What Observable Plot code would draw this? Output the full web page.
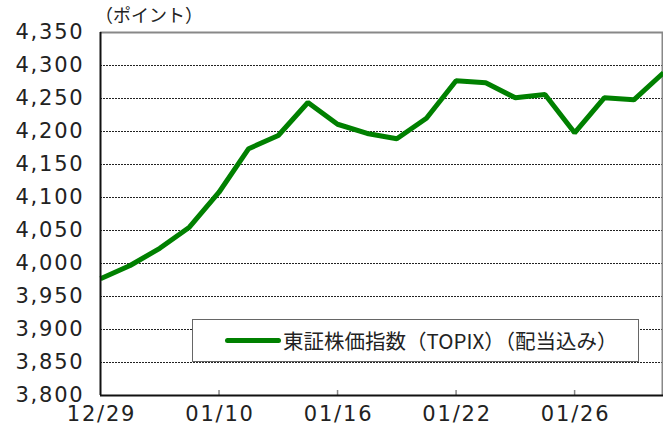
<!DOCTYPE html>
<html><head><meta charset="utf-8">
<script src="https://cdn.jsdelivr.net/npm/d3@7"></script>
<script src="https://cdn.jsdelivr.net/npm/@observablehq/plot@0.6"></script>
<style>
html,body{margin:0;padding:0;background:#fff;overflow:hidden;}
#wrap{position:relative;width:663px;height:435px;overflow:hidden;}
#wrap svg{display:block;max-width:none !important;}
#wrap svg g[aria-label="y-axis tick label"] text,
#wrap svg g[aria-label="x-axis tick label"] text{letter-spacing:1.8px;}
#ytitle{position:absolute;left:95px;top:2px;font-family:"Noto Sans CJK JP";font-size:18px;color:#222;line-height:24px;white-space:nowrap;}
#legend{position:absolute;left:192px;top:319px;width:447px;height:43px;border:1px solid #666;background:#fff;box-sizing:border-box;}
#legend .sw{position:absolute;left:32px;top:18px;width:56px;height:5px;border-radius:3px;background:#008000;}
#legend .tx{position:absolute;left:90px;top:0;height:41px;line-height:40px;font-family:"Noto Sans CJK JP";font-size:20.5px;color:#222;white-space:nowrap;}
</style></head>
<body><div id="wrap"></div>
<script>
const dates = ["12/29","01/04","01/05","01/09","01/10","01/11","01/12","01/15","01/16","01/17","01/18","01/19","01/22","01/23","01/24","01/25","01/26","01/29","01/30","01/31"];
const values = [3977,3997,4023,4055,4108,4174,4194,4244,4211,4197,4189,4220,4277,4274,4251,4256,4198,4251,4248,4289];
const xTickLabels = ["12/29","01/10","01/16","01/22","01/26"];
const yTicks = [3800,3850,3900,3950,4000,4050,4100,4150,4200,4250,4300,4350];
const seriesName = "東証株価指数（TOPIX）（配当込み）";
const yTitle = "（ポイント）";

const data = dates.map((d,i)=>({date:d, value:values[i]}));
const chart = Plot.plot({
  width:663, height:435,
  marginLeft:100, marginRight:0, marginTop:32, marginBottom:40,
  x:{type:"point", domain:dates, padding:0, round:false},
  y:{domain:[3800,4350]},
  style:{fontFamily:"DejaVu Sans", fontSize:"21px", color:"#222", background:"#fff", overflow:"hidden"},
  marks:[
    Plot.ruleY(yTicks.slice(1,-1), {stroke:"#222", strokeWidth:1, strokeDasharray:"2 1"}),
    Plot.ruleY([yTicks[yTicks.length-1]], {stroke:"#888", strokeWidth:2}),
    Plot.ruleX([dates[dates.length-1]], {stroke:"#888", strokeWidth:2, dx:-1}),
    Plot.ruleX(xTickLabels.slice(1), {stroke:"#888", strokeWidth:1.5, insetTop:358}),
    Plot.line(data, {x:"date", y:"value", stroke:"#008000", strokeWidth:5, strokeLinejoin:"miter", strokeLinecap:"butt"}),
    Plot.ruleX([dates[0]], {stroke:"#111", strokeWidth:2}),
    Plot.ruleY([yTicks[0]], {stroke:"#111", strokeWidth:2}),
    Plot.axisY({ticks:yTicks, tickSize:0, tickPadding:16, tickFormat:d3.format(","), label:null}),
    Plot.axisX({ticks:xTickLabels, tickSize:0, tickPadding:11, dx:1, label:null})
  ]
});
const wrap = document.getElementById("wrap");
wrap.appendChild(chart);
const t = document.createElement("div"); t.id="ytitle"; t.textContent=yTitle; wrap.appendChild(t);
const lg = document.createElement("div"); lg.id="legend";
lg.innerHTML = '<div class="sw"></div><div class="tx"></div>';
lg.querySelector(".tx").textContent = seriesName;
wrap.appendChild(lg);
</script></body></html>
